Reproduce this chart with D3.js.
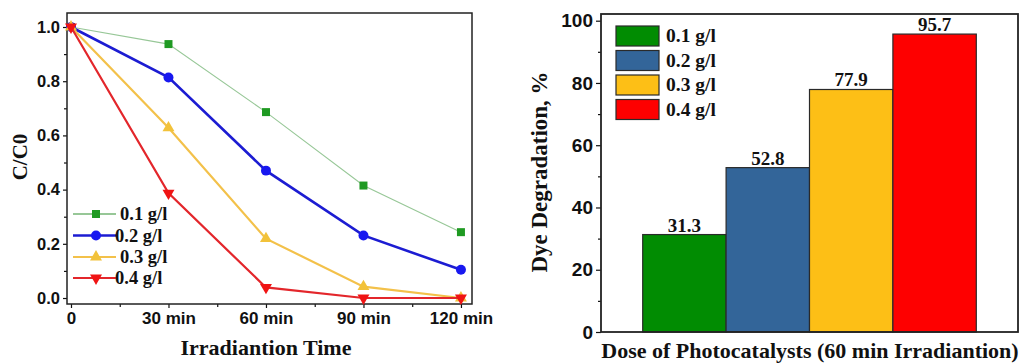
<!DOCTYPE html>
<html>
<head>
<meta charset="utf-8">
<script src="https://cdn.jsdelivr.net/npm/d3@7"></script>
<style>
  html, body { margin: 0; padding: 0; background: #fff; }
  svg { display: block; }
  .tick text { font-family: "Liberation Sans", Arial, sans-serif; font-weight: bold; fill: #111; }
  .serif { font-family: "Liberation Serif", "Times New Roman", serif; font-weight: bold; fill: #111; }
</style>
</head>
<body>
<svg id="chart" width="1025" height="363"></svg>
<script>
// ---- Kinetics data: C/C0 versus irradiation time ----
const times = [0, 30, 60, 90, 120];
const timeLabels = ["0", "30 min", "60 min", "90 min", "120 min"];
const doseNames = ["0.1 g/l", "0.2 g/l", "0.3 g/l", "0.4 g/l"];
const ratio01 = [1.0, 0.937, 0.686, 0.415, 0.243];
const ratio02 = [1.0, 0.814, 0.470, 0.231, 0.104];
const ratio03 = [1.0, 0.628, 0.219, 0.042, 0.0];
const ratio04 = [1.0, 0.387, 0.039, 0.0, 0.0];
const ratioTicks = [0.0, 0.2, 0.4, 0.6, 0.8, 1.0];

// ---- Degradation after 60 min for each dose ----
const degradation = [31.3, 52.8, 77.9, 95.7];
const percentTicks = [0, 20, 40, 60, 80, 100];

const svg = d3.select("#chart");

/* ================= Left panel: line chart ================= */
const L = { left: 67, right: 472, top: 13, bottom: 304 };
const x = d3.scaleLinear().domain([-1.23, 123.4]).range([L.left, L.right]);
const y = d3.scaleLinear().domain([-0.0221, 1.0517]).range([L.bottom, L.top]);

const lineStyles = [
  { values: ratio01, line: "#97c797", mark: "#1f9a22", width: 1.1, shape: d3.symbolSquare, size: 64 },
  { values: ratio02, line: "#1c1cd2", mark: "#1818f0", width: 2.6, shape: d3.symbolCircle, size: 78 },
  { values: ratio03, line: "#f3c14a", mark: "#f2c23a", width: 2.2, shape: d3.symbolTriangle, size: 62 },
  { values: ratio04, line: "#e3262b", mark: "#f01414", width: 2.2, shape: d3.symbolTriangle, size: 62, down: true }
];

// minor + major ticks, drawn outward
svg.append("g")
  .attr("transform", `translate(0,${L.bottom})`)
  .call(d3.axisBottom(x).tickValues(d3.range(15, 120, 30)).tickSize(3).tickFormat(""))
  .call(g => g.select(".domain").remove());
svg.append("g")
  .attr("transform", `translate(0,${L.bottom})`)
  .call(d3.axisBottom(x).tickValues(times).tickSize(4).tickPadding(4)
    .tickFormat((d, i) => timeLabels[i]))
  .call(g => g.select(".domain").remove())
  .call(g => g.selectAll("text").attr("font-size", 17));
svg.append("g")
  .attr("transform", `translate(${L.left},0)`)
  .call(d3.axisLeft(y).tickValues([0.1, 0.3, 0.5, 0.7, 0.9]).tickSize(3).tickFormat(""))
  .call(g => g.select(".domain").remove());
svg.append("g")
  .attr("transform", `translate(${L.left},0)`)
  .call(d3.axisLeft(y).tickValues(ratioTicks).tickSize(4).tickPadding(3).tickFormat(d3.format(".1f")))
  .call(g => g.select(".domain").remove())
  .call(g => g.selectAll("text").attr("font-size", 16.5));
svg.selectAll(".tick line").attr("stroke", "#111").attr("stroke-width", 1.2);

// frame
svg.append("rect")
  .attr("x", L.left).attr("y", L.top)
  .attr("width", L.right - L.left).attr("height", L.bottom - L.top)
  .attr("fill", "none").attr("stroke", "#222").attr("stroke-width", 1.5);

const line = d3.line().x((d, i) => x(times[i])).y(d => y(d));
const symbolPath = s => d3.symbol().type(s.shape).size(s.size)();

lineStyles.forEach(s => {
  const g = svg.append("g");
  g.append("path").datum(s.values)
    .attr("d", line).attr("fill", "none")
    .attr("stroke", s.line).attr("stroke-width", s.width);
  g.selectAll("path.m").data(s.values).join("path").attr("class", "m")
    .attr("d", symbolPath(s))
    .attr("transform", (d, i) => `translate(${x(times[i])},${y(d)})${s.down ? " rotate(180)" : ""}`)
    .attr("fill", s.mark);
});

// legend
const legendRows = [214, 235.5, 257, 278];
const legendTextX = [120, 115, 120, 115];
lineStyles.forEach((s, i) => {
  const g = svg.append("g");
  g.append("line").attr("x1", 73).attr("x2", 116)
    .attr("y1", legendRows[i]).attr("y2", legendRows[i])
    .attr("stroke", s.line).attr("stroke-width", Math.max(s.width, 2));
  g.append("path").attr("d", symbolPath(s))
    .attr("transform", `translate(96,${legendRows[i]})${s.down ? " rotate(180)" : ""}`)
    .attr("fill", s.mark);
  g.append("text").attr("class", "serif")
    .attr("x", legendTextX[i]).attr("y", legendRows[i] + 6)
    .attr("font-size", 18.5).text(doseNames[i]);
});

// axis titles
svg.append("text").attr("class", "serif")
  .attr("x", 266).attr("y", 355).attr("text-anchor", "middle")
  .attr("font-size", 22).text("Irradiantion Time");
svg.append("text").attr("class", "serif")
  .attr("transform", "translate(27,157) rotate(-90)").attr("text-anchor", "middle")
  .attr("font-size", 21).text("C/C0");

/* ================= Right panel: bar chart ================= */
const R = { left: 601, right: 1018, top: 14, bottom: 332 };
const xb = d3.scaleBand().domain(doseNames).range([R.left, R.right])
  .paddingInner(0).paddingOuter(0.5);
const yb = d3.scaleLinear().domain([0, 102.15]).range([R.bottom, R.top]);
const barColors = ["#018c02", "#336599", "#fdbf16", "#fe0000"];

svg.append("g")
  .attr("transform", `translate(${R.left},0)`)
  .call(d3.axisLeft(yb).tickValues([10, 30, 50, 70, 90]).tickSize(3).tickFormat(""))
  .call(g => g.select(".domain").remove());
svg.append("g")
  .attr("transform", `translate(${R.left},0)`)
  .call(d3.axisLeft(yb).tickValues(percentTicks).tickSize(5).tickPadding(3))
  .call(g => g.select(".domain").remove())
  .call(g => g.selectAll("text").attr("font-size", 19));
svg.selectAll(".tick line").attr("stroke", "#111").attr("stroke-width", 1.2);

svg.append("g").selectAll("rect").data(degradation).join("rect")
  .attr("x", (d, i) => xb(doseNames[i]))
  .attr("y", d => yb(d))
  .attr("width", xb.bandwidth())
  .attr("height", d => yb(0) - yb(d))
  .attr("fill", (d, i) => barColors[i])
  .attr("stroke", "#2a2a2a").attr("stroke-width", 1.2);

svg.append("g").selectAll("text").data(degradation).join("text")
  .attr("class", "serif")
  .attr("x", (d, i) => xb(doseNames[i]) + xb.bandwidth() / 2)
  .attr("y", d => yb(d) - 3)
  .attr("text-anchor", "middle").attr("font-size", 19)
  .text(d => d.toFixed(1));

svg.append("rect")
  .attr("x", R.left).attr("y", R.top)
  .attr("width", R.right - R.left).attr("height", R.bottom - R.top)
  .attr("fill", "none").attr("stroke", "#222").attr("stroke-width", 1.8);

// bar legend
doseNames.forEach((name, i) => {
  const top = 26 + i * 24.5;
  svg.append("rect").attr("x", 616).attr("y", top).attr("width", 43).attr("height", 20)
    .attr("fill", barColors[i]).attr("stroke", "#2a2a2a").attr("stroke-width", 1.2);
  svg.append("text").attr("class", "serif")
    .attr("x", 666).attr("y", top + 16).attr("font-size", 19.5).text(name);
});

svg.append("text").attr("class", "serif")
  .attr("x", 810).attr("y", 358).attr("text-anchor", "middle")
  .attr("font-size", 22).text("Dose of Photocatalysts (60 min Irradiantion)");
svg.append("text").attr("class", "serif")
  .attr("transform", "translate(547,172) rotate(-90)").attr("text-anchor", "middle")
  .attr("font-size", 23).text("Dye Degradation, %");
</script>
</body>
</html>
